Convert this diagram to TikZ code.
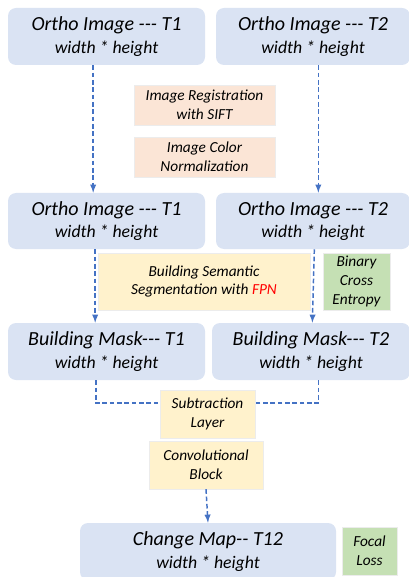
\documentclass[tikz,border=0pt]{standalone}
\usepackage{fontspec}
\setmainfont{Carlito}
\usetikzlibrary{positioning}

\definecolor{imgblue}{HTML}{DAE3F3}
\definecolor{oporange}{HTML}{FBE5D6}
\definecolor{opyellow}{HTML}{FFF2CC}
\definecolor{lossgreen}{HTML}{C5E0B4}
\definecolor{flowblue}{HTML}{4472C4}

\newcommand{\dashes}{{-}{-}{-}}

\begin{document}
\begin{tikzpicture}[x=0.75pt, y=-0.75pt,
    imgbox/.style={fill=imgblue, rounded corners=6pt, align=center, inner sep=0pt,
        font=\itshape\fontsize{15}{17}\selectfont},
    opbox/.style={draw=white!85!gray, line width=0.3pt, align=center, inner sep=0pt,
        font=\itshape\fontsize{11.5}{14}\selectfont},
    flow/.style={draw=flowblue, line width=1.1pt, dash pattern=on 3.5pt off 2pt, -latex}]
                \useasboundingbox (0,0) rectangle (409,577);

                % Input images
                \node[imgbox, minimum width=147.75pt, minimum height=42.75pt] (o1a) at (106.5, 36.5) {Ortho Image \dashes{} T1\\{\fontsize{13.3}{16}\selectfont width * height}};
                \node[imgbox, minimum width=145.5pt, minimum height=42.75pt] (o2a) at (313, 36.5) {Ortho Image \dashes{} T2\\{\fontsize{13.3}{16}\selectfont width * height}};

                % Preprocessing steps
                \node[opbox, fill=oporange, minimum width=105.75pt, minimum height=30pt] (reg) at (204.5, 105) {Image Registration\\with SIFT};
                \node[opbox, fill=oporange, minimum width=105.75pt, minimum height=30pt] (norm) at (204.5, 157) {Image Color\\Normalization};

                % Preprocessed images
                \node[imgbox, minimum width=147.75pt, minimum height=42pt] (o1b) at (106.5, 221) {Ortho Image \dashes{} T1\\{\fontsize{13.3}{16}\selectfont width * height}};
                \node[imgbox, minimum width=145.5pt, minimum height=42pt] (o2b) at (313, 221) {Ortho Image \dashes{} T2\\{\fontsize{13.3}{16}\selectfont width * height}};

                % Segmentation
                \node[opbox, fill=opyellow, minimum width=159pt, minimum height=42.75pt] (seg) at (204, 281.5) {Building Semantic\\Segmentation with \textcolor{red}{FPN}};
                \node[opbox, fill=lossgreen, minimum width=50.25pt, minimum height=42.75pt] (bce) at (356.5, 281.5) {Binary\\Cross\\Entropy};

                % Building masks
                \node[imgbox, minimum width=147.75pt, minimum height=42.75pt] (m1) at (106.5, 351.5) {Building Mask\dashes{} T1\\{\fontsize{13.3}{16}\selectfont width * height}};
                \node[imgbox, minimum width=148.5pt, minimum height=42.75pt] (m2) at (311, 351.5) {Building Mask\dashes{} T2\\{\fontsize{13.3}{16}\selectfont width * height}};

                % Change detection
                \node[opbox, fill=opyellow, minimum width=71.25pt, minimum height=36pt] (sub) at (207.5, 414) {Subtraction\\Layer};
                \node[opbox, fill=opyellow, minimum width=85.5pt, minimum height=36pt] (conv) at (206, 465) {Convolutional\\Block};

                % Output
                \node[imgbox, minimum width=192pt, minimum height=42.75pt] (cmap) at (208, 551.5) {Change Map{-}{-} T12\\{\fontsize{13.3}{16}\selectfont width * height}};
                \node[opbox, fill=lossgreen, minimum width=41.25pt, minimum height=36pt] (focal) at (369.5, 551) {Focal\\Loss};

                % Connectors
                \draw[flow] ([xshift=-10pt]o1a.south) -- ([xshift=-10pt]o1b.north);
                \draw[flow] ([xshift=4pt]o2a.south) -- ([xshift=4pt]o2b.north);
                \draw[flow] ([xshift=-8.5pt]o1b.south) -- ([xshift=-8.5pt]m1.north);
                \draw[flow] ([xshift=1pt]o2b.south) -- ([xshift=1pt]m2.north);
                \draw[flow, -] ([xshift=-8pt]m1.south) |- ([yshift=8.25pt]sub.west);
                \draw[flow, -] ([xshift=5.5pt]m2.south) |- ([yshift=8.25pt]sub.east);
                \draw[flow] (conv.south) -- (cmap.north);
            \end{tikzpicture}
\end{document}
